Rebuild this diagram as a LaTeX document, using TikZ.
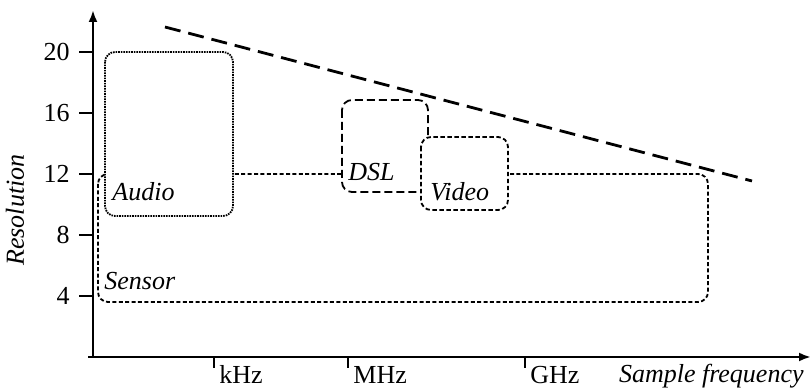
\documentclass[tikz,border=0pt]{standalone}
\usepackage{fontspec}
\setmainfont{Liberation Serif}
\usetikzlibrary{arrows.meta}

\begin{document}
\begin{tikzpicture}[x=0.5pt,y=-0.5pt]

\tikzset{
  axis/.style  = {line width=1.3pt, -{Latex[length=6pt,width=4.5pt]}},
  tickmark/.style = {line width=1pt},
  region/.style = {rounded corners=5pt, line width=0.9pt, fill=white},
  txt/.style   = {font=\fontsize{13}{15}\selectfont, inner sep=0pt},
  lbl/.style   = {txt, font=\fontsize{13}{15}\selectfont\itshape}
}
  \useasboundingbox (0,0) rectangle (811,389);

  % axes
  \coordinate (O) at (93,357);
  \coordinate (xs) at (88,357);
  \coordinate (xe) at (811,357);
  \coordinate (ye) at (93,10);
  \draw[axis] (xs) -- (xe);
  \draw[axis] (O) -- (ye);

  % y ticks
  \foreach \v/\yy in {20/52, 16/113, 12/174, 8/235, 4/296} {
    \coordinate (ya\v) at (79,\yy);
    \coordinate (yb\v) at (93,\yy);
    \draw[tickmark] (ya\v) -- (yb\v);
    \node[txt, anchor=east] (yl\v) at (70,\yy) {\v};
  }

  % x ticks
  \foreach \n/\xx in {kHz/214, MHz/348, GHz/525} {
    \coordinate (xa\n) at (\xx,357);
    \coordinate (xb\n) at (\xx,368);
    \draw[tickmark] (xa\n) -- (xb\n);
    \node[txt, anchor=base west] (xl\n) at (\xx+5,384) {\n};
  }

  \node[lbl, anchor=base east] (xlabel) at (804,383) {Sample frequency};
  \node[lbl, rotate=90] (ylabel) at (15,210) {Resolution};

  % regions
  \draw[region, dash pattern=on 2pt off 1.2pt] (98,174) rectangle (708,302);
  \draw[region, dash pattern=on 0.8pt off 0.5pt] (105,52) rectangle (233,216);
  \draw[region, dash pattern=on 4pt off 2pt] (342,100) rectangle (428,192);
  \draw[region, dash pattern=on 2.2pt off 1.3pt] (421,137) rectangle (508,210);

  \node[lbl, anchor=base west] (audio) at (112,201) {Audio};
  \node[lbl, anchor=base west] (sensor) at (104,290) {Sensor};
  \node[lbl, anchor=base west] (dsl) at (348,181) {DSL};
  \node[lbl, anchor=base west] (video) at (430,201) {Video};

  % limit line
  \coordinate (la) at (165,27);
  \coordinate (lb) at (752,181);
  \draw[line width=1.4pt, dash pattern=on 8pt off 4pt] (la) -- (lb);

\end{tikzpicture}
\end{document}
